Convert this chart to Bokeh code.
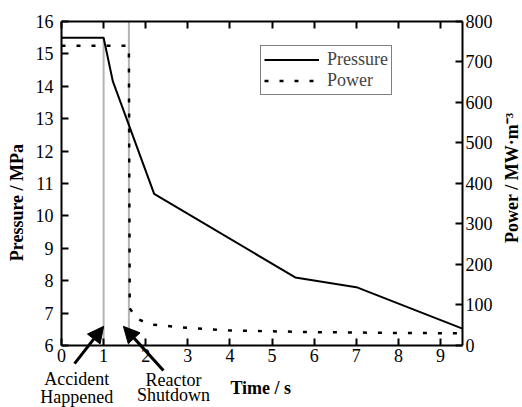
import math
from bokeh.plotting import figure
from bokeh.models import (Range1d, LinearAxis, Arrow, NormalHead, Label, Legend,
                          LegendItem, FixedTicker)
from bokeh.embed import file_html
from bokeh.resources import INLINE

# ---- data ----
time_pressure = [0, 1.0, 1.22, 2.2, 5.55, 7.0, 9.52]
pressure = [15.5, 15.5, 14.15, 10.68, 8.1, 7.8, 6.52]

time_power = [0, 1.6, 1.62, 1.78, 2.1, 2.83, 4, 5, 6, 7, 8, 9.52]
power = [740, 740, 92, 67, 52, 45, 37, 35, 33, 32, 31, 30]

accident_time = 1.0
shutdown_time = 1.6

x_ticks = [0, 1, 2, 3, 4, 5, 6, 7, 8, 9]
p_ticks = [6, 7, 8, 9, 10, 11, 12, 13, 14, 15, 16]
w_ticks = [0, 100, 200, 300, 400, 500, 600, 700, 800]

X_MIN, X_MAX = 0, 9.52
P_MIN, P_MAX = 6, 16
W_MIN, W_MAX = 0, 800

FONT = "'Liberation Serif'"

# The frame covers the whole canvas so that the notes below the axis are not clipped;
# the axes are pinned to the data limits with fixed_location / bounds.
p = figure(width=522, height=407, output_backend="svg", toolbar_location=None,
           x_range=Range1d(-1.448, 10.945), y_range=Range1d(4.086, 16.648),
           x_axis_location=None, y_axis_location=None,
           min_border_left=0, min_border_right=0, min_border_top=0,
           min_border_bottom=0)
p.extra_y_ranges = {"power": Range1d(-153.1, 851.85)}
p.grid.visible = False
p.outline_line_color = None
p.background_fill_color = "white"
p.border_fill_color = "white"


def style(ax):
    ax.axis_line_width = 2
    ax.axis_line_color = "black"
    ax.major_tick_in = 7
    ax.major_tick_out = 0
    ax.minor_tick_in = 0
    ax.minor_tick_out = 0
    ax.major_tick_line_width = 2
    ax.major_label_text_font = FONT
    ax.major_label_text_font_size = "18px"
    ax.major_label_text_color = "black"


bx = LinearAxis(ticker=FixedTicker(ticks=x_ticks), fixed_location=P_MIN,
                bounds=(X_MIN, X_MAX))
style(bx)
bx.major_label_standoff = 4
p.add_layout(bx, "below")

tx = LinearAxis(ticker=FixedTicker(ticks=x_ticks), fixed_location=P_MAX,
                bounds=(X_MIN, X_MAX))
style(tx)
tx.major_label_text_alpha = 0
p.add_layout(tx, "above")

ly = LinearAxis(ticker=FixedTicker(ticks=p_ticks), fixed_location=X_MIN,
                bounds=(P_MIN, P_MAX))
style(ly)
ly.major_label_standoff = 8
p.add_layout(ly, "left")

ry = LinearAxis(ticker=FixedTicker(ticks=w_ticks), y_range_name="power",
                fixed_location=X_MAX, bounds=(W_MIN, W_MAX))
style(ry)
ry.major_label_standoff = 3
p.add_layout(ry, "right")

# axis titles
p.add_layout(Label(x=4.73, y=4.68, text="Time / s", text_align="center",
                   text_baseline="middle", text_font=FONT, text_font_size="18px",
                   text_font_style="bold", text_color="black"))
p.add_layout(Label(x=-1.068, y=10.41, text="Pressure / MPa", angle=math.pi / 2,
                   text_align="center", text_baseline="middle", text_font=FONT,
                   text_font_size="18px", text_font_style="bold", text_color="black"))
p.add_layout(Label(x=10.706, y=414, y_range_name="power", text="Power / MW·m⁻³",
                   angle=math.pi / 2, text_align="center", text_baseline="middle",
                   text_font=FONT, text_font_size="18px", text_font_style="bold",
                   text_color="black"))

# event lines
p.line([accident_time, accident_time], [P_MIN, 15.5], line_color="#b4b4b4", line_width=2)
p.line([shutdown_time, shutdown_time], [P_MIN, P_MAX], line_color="#b4b4b4", line_width=2)

r1 = p.line(time_pressure, pressure, line_color="black", line_width=2)
r2 = p.line(time_power, power, y_range_name="power", line_color="black",
            line_width=2.5, line_dash="4 11")

legend = Legend(items=[LegendItem(label="Pressure", renderers=[r1]),
                       LegendItem(label="Power", renderers=[r2])],
                location=(260, 312))
legend.border_line_color = "black"
legend.border_line_width = 1
legend.background_fill_alpha = 1
legend.label_text_font = FONT
legend.label_text_font_size = "18px"
legend.label_text_line_height = 1.0
legend.glyph_width = 55
legend.glyph_height = 19
legend.label_height = 19
legend.spacing = 0
legend.padding = 3
legend.margin = 0
legend.label_standoff = 8
p.add_layout(legend)

# annotations
p.add_layout(Arrow(end=NormalHead(size=16, fill_color="black", line_color="black"),
                   x_start=0.31, y_start=5.44, x_end=accident_time, y_end=6.59,
                   line_width=3, line_color="black"))
p.add_layout(Arrow(end=NormalHead(size=16, fill_color="black", line_color="black"),
                   x_start=2.42, y_start=5.23, x_end=1.47, y_end=6.59,
                   line_width=3, line_color="black"))

for txt, x, y in [("Accident", 0.36, 4.98), ("Happened", 0.36, 4.42),
                  ("Reactor", 2.66, 4.95), ("Shutdown", 2.66, 4.46)]:
    p.add_layout(Label(x=x, y=y, text=txt, text_align="center", text_baseline="middle",
                       text_font=FONT, text_font_size="18px", text_color="black"))

open("out.html", "w").write(file_html(p, INLINE))
